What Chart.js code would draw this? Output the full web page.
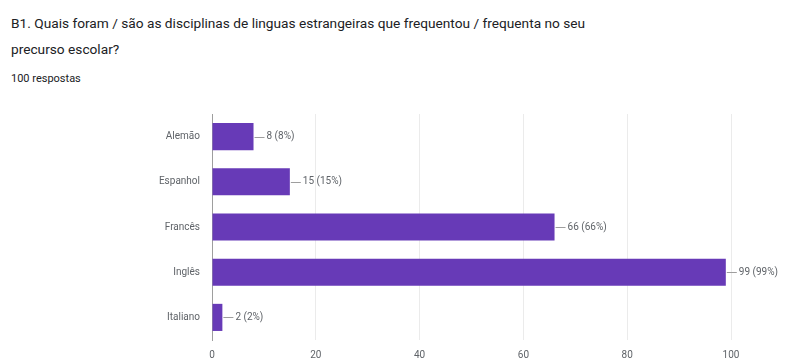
<!DOCTYPE html>
<html>
<head>
<meta charset="utf-8">
<script src="https://cdn.jsdelivr.net/npm/chart.js@4"></script>
<style>
  html, body { margin: 0; padding: 0; background: #fff; }
  #wrap { position: relative; width: 798px; height: 358px; overflow: hidden; font-family: Roboto, "Noto Sans", Arial, sans-serif; }
  #title { position: absolute; left: 11px; top: 10px; width: 780px; font-size: 13.7px; line-height: 26px; color: #202124; }
  #count { position: absolute; left: 11px; top: 72px; font-size: 11px; color: #202124; }
  canvas { position: absolute; left: 0; top: 0; }
</style>
</head>
<body>
<div id="wrap">
  <div id="title">B1. Quais foram / são as disciplinas de linguas estrangeiras que frequentou / frequenta no seu<br>precurso escolar?</div>
  <div id="count">100 respostas</div>
  <canvas id="chart" width="798" height="358"></canvas>
</div>
<script>
const languages = ["Alemão", "Espanhol", "Francês", "Inglês", "Italiano"]
const answers = [8, 15, 66, 99, 2]
const respondents = 100
const xTicks = [0, 20, 40, 60, 80, 100]

// leader line + "n (p%)" next to the end of each bar
const valueLabels = {
  id: "valueLabels",
  afterDatasetsDraw(chart) {
    const ctx = chart.ctx
    const meta = chart.getDatasetMeta(0)
    ctx.save()
    ctx.font = "10px Roboto, 'Noto Sans', sans-serif"
    ctx.textBaseline = "middle"
    meta.data.forEach((bar, i) => {
      const v = answers[i]
      const pct = Math.round(v / respondents * 100)
      ctx.strokeStyle = "#9e9e9e"
      ctx.lineWidth = 1
      ctx.beginPath()
      ctx.moveTo(bar.x + 1, Math.round(bar.y) + 0.5)
      ctx.lineTo(bar.x + 11, Math.round(bar.y) + 0.5)
      ctx.stroke()
      ctx.fillStyle = "#5f6368"
      ctx.fillText(v + " (" + pct + "%)", bar.x + 13, bar.y)
    })
    ctx.restore()
  }
}

const ctx = document.getElementById("chart").getContext("2d")
new Chart(ctx, {
  type: "bar",
  data: {
    labels: languages,
    datasets: [
      {
        data: answers,
        backgroundColor: "#673ab7",
        barPercentage: 0.6,
        categoryPercentage: 1,
      },
    ],
  },
  options: {
    indexAxis: "y",
    responsive: false,
    animation: false,
    layout: { padding: { left: 0, right: 67, top: 114, bottom: 0 } },
    plugins: {
      legend: { display: false },
      tooltip: { enabled: false },
    },
    scales: {
      x: {
        min: 0,
        max: 100,
        afterBuildTicks(scale) {
          scale.ticks = xTicks.map((v) => ({ value: v }))
        },
        afterFit(scale) {
          scale.height = 18
        },
        grid: {
          drawTicks: false,
          color: (c) => (c.tick && c.tick.value === 0 ? "#9e9e9e" : "#ebebeb"),
        },
        border: { display: false },
        ticks: {
          padding: 9,
          color: "#5f6368",
          font: { size: 10, family: "Roboto, 'Noto Sans', sans-serif" },
        },
      },
      y: {
        afterFit(scale) {
          scale.width = 212
        },
        grid: { display: false, drawTicks: false },
        border: { color: "#9e9e9e" },
        ticks: {
          padding: 12,
          color: "#5f6368",
          font: { size: 10, family: "Roboto, 'Noto Sans', sans-serif" },
        },
      },
    },
  },
  plugins: [valueLabels],
})
</script>
</body>
</html>
